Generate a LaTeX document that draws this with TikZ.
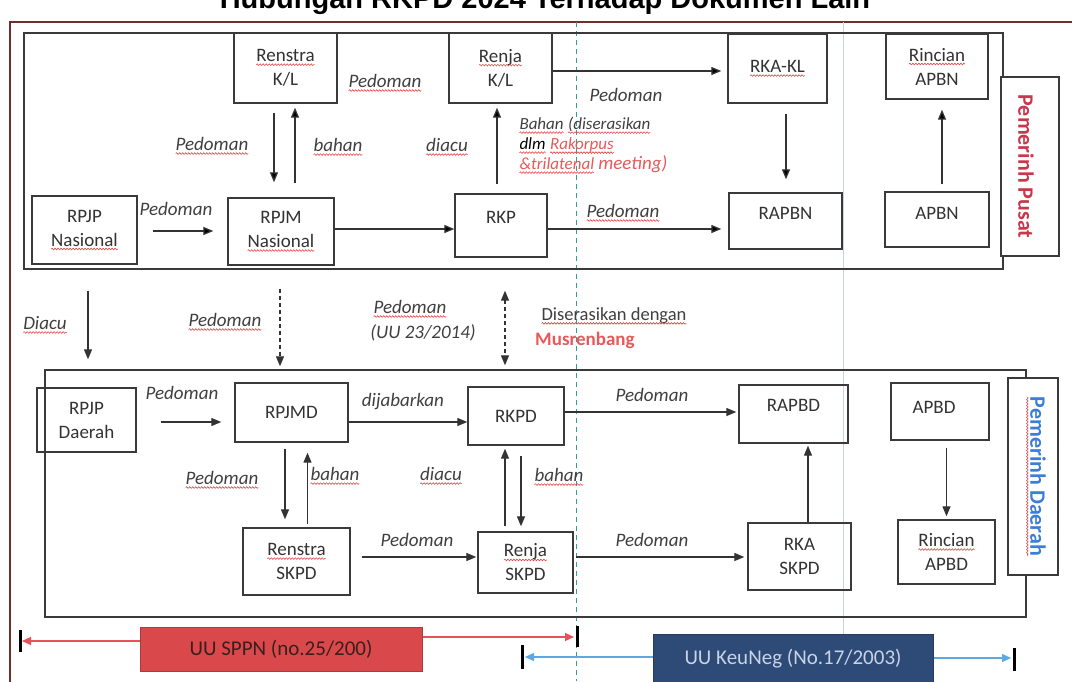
\documentclass[tikz,border=0pt]{standalone}
\usepackage{fontspec}
\setmainfont{Carlito}
\newfontfamily\judulfont{Liberation Sans}
\usetikzlibrary{arrows.meta,decorations.pathmorphing}

\definecolor{ink}{HTML}{333333}
\definecolor{boxgray}{HTML}{3A3A3A}
\definecolor{lblgray}{HTML}{404040}
\definecolor{framered}{HTML}{6E2E2E}
\definecolor{sqred}{HTML}{E04848}
\definecolor{rakorred}{HTML}{E65A5A}
\definecolor{pusatred}{HTML}{C8374A}
\definecolor{daerahblue}{HTML}{3A7FD5}
\definecolor{guideteal}{HTML}{2FA08F}
\definecolor{guidefaint}{HTML}{C9D3E6}
\definecolor{sppnred}{HTML}{D9484B}
\definecolor{rangered}{HTML}{E8505A}
\definecolor{keunegblue}{HTML}{2E4B78}
\definecolor{rangeblue}{HTML}{5AA8E6}

% red spell-check squiggle under a word
\newcommand\sq[1]{\tikz[baseline=(sqw.base)]{\node[inner sep=0pt,outer sep=0pt,minimum width=0pt,minimum height=0pt,draw=none,fill=none] (sqw) {#1};\draw[sqred,line width=0.6pt,decorate,decoration={snake,amplitude=0.8pt,segment length=3pt}] ([yshift=-3pt]sqw.base west) -- ([yshift=-3pt]sqw.base east);}}

\begin{document}
\begin{tikzpicture}[x=1pt,y=-1pt,
    box/.style 2 args={draw=boxgray,line width=1.4pt,inner sep=0pt,minimum width=#1pt,minimum height=#2pt,align=center,text=ink,font=\fontsize{19}{24}\selectfont},
    boxtx/.style={inner sep=0pt,align=center,text=ink,font=\fontsize{19}{24}\selectfont},
    sidebox/.style 2 args={draw=boxgray,line width=1.4pt,fill=white,minimum width=#1pt,minimum height=#2pt,inner sep=0pt},
    frame/.style 2 args={draw=boxgray,line width=1.4pt,minimum width=#1pt,minimum height=#2pt,inner sep=0pt},
    lbl/.style={inner sep=0pt,text=lblgray,font=\fontsize{19}{22}\selectfont\itshape},
    arr/.style={draw=ink,line width=1.3pt,-{Triangle[length=10pt,width=8pt]}},
    dasharr/.style={arr,dash pattern=on 4pt off 3pt},
    bar/.style={line width=3pt,black},
  ]
\path[use as bounding box,clip] (0,0) rectangle (1072,681);
\fill[white] (0,0) rectangle (1072,681);

\node[anchor=base,text=black,font=\judulfont\fontsize{29}{32}\selectfont\bfseries] (judul) at (545,8) {Hubungan RKPD 2024 Terhadap Dokumen Lain};
\draw[framered,line width=1.8pt] (1080,22) -- (10,22) -- (10,690);
\draw[guidefaint,line width=1pt] (843,22) -- (843,681);
\draw[guideteal,line width=1pt,dash pattern=on 5pt off 4pt] (576,22) -- (576,681);

% pemerintah pusat
\node[frame={979}{236}] (pusat) at (513.5,151) {};
\node[box={103}{70}] (renstrakl) at (285.5,68) {\sq{Renstra}\\K/L};
\node[box={103}{70}] (renjakl) at (500.5,68) {\sq{Renja}\\K/L};
\node[box={99}{69}] (rkakl) at (777.5,68.5) {\sq{RKA-KL}};
\node[box={102}{65}] (rincianapbn) at (937,66.5) {\sq{Rincian}\\APBN};
\node[box={105}{68}] (rpjpn) at (84.5,230) {RPJP\\\sq{Nasional}};
\node[box={106}{67}] (rpjmn) at (281,231.5) {RPJM\\\sq{Nasional}};
\node[box={92}{63}] (rkp) at (501,225.5) {};
\node[boxtx] (rkptx) at ([yshift=8.5pt]rkp.center) {RKP};
\node[box={113}{56}] (rapbn) at (785.5,221) {};
\node[boxtx] (rapbntx) at ([yshift=8pt]rapbn.center) {RAPBN};
\node[box={104}{55}] (apbn) at (937,219.5) {};
\node[boxtx] (apbntx) at ([yshift=6pt]apbn.center) {APBN};
\node[sidebox={58}{179}] (pusatlbl) at (1030,166.5) {};
\node[rotate=-90,inner sep=0pt,text=pusatred,font=\fontsize{22}{24}\selectfont\bfseries] (pusattx) at ([xshift=-4pt]pusatlbl.center) {Pemerinh Pusat};

\draw[arr,shorten <=15pt,shorten >=14pt] ([yshift=-1pt]rpjpn.east) -- ([yshift=-1pt]rpjpn.east -| rpjmn.west);
\draw[arr] ([yshift=2.5pt]rpjmn.east) -- ([yshift=2.5pt]rpjmn.east -| rkp.west);
\draw[arr,shorten <=9pt,shorten >=15pt] ([xshift=-11.5pt]renstrakl.south) -- ([xshift=-11.5pt]renstrakl.south |- rpjmn.north);
\draw[arr,shorten <=14pt,shorten >=4pt] ([xshift=14pt]rpjmn.north) -- ([xshift=14pt]rpjmn.north |- renstrakl.south);
\draw[arr,shorten <=9pt,shorten >=4pt] ([xshift=-4pt]rkp.north) -- ([xshift=-4pt]rkp.north |- renjakl.south);
\draw[arr,shorten >=6pt] ([yshift=-3pt]renjakl.east) -- ([yshift=-3pt]renjakl.east -| rkakl.west);
\draw[arr,shorten <=10pt,shorten >=13pt] ([xshift=8.5pt]rkakl.south) -- ([xshift=8.5pt]rkakl.south |- rapbn.north);
\draw[arr,shorten <=7pt,shorten >=10pt] ([xshift=5pt]apbn.north) -- ([xshift=5pt]apbn.north |- rincianapbn.south);
\draw[arr,shorten >=7pt] ([yshift=-3.5pt]rkp.east) -- ([yshift=-3.5pt]rkp.east -| rapbn.west);

\node[lbl] (pedomanrk) at (385,83) {\sq{Pedoman}};
\node[lbl] (pedomanrpjp) at (176,209) {Pedoman};
\node[lbl] (pedomanrs) at (212,146) {\sq{Pedoman}};
\node[lbl] (bahanrs) at (338,147) {\sq{bahan}};
\node[lbl] (diacurk) at (447,147) {\sq{diacu}};
\node[lbl] (pedomanka) at (626,95) {Pedoman};
\node[lbl] (pedomanrapbn) at (623,213) {\sq{Pedoman}};
\node[lbl,align=left,anchor=north west,font=\fontsize{17}{20}\selectfont\itshape] (bahanrakor) at (519,117)
  {\sq{Bahan} \sq{(diserasikan}\\\textcolor{black}{\sq{dlm}} \textcolor{rakorred}{\sq{Rakorpus}}\\\textcolor{rakorred}{\sq{\&trilatenal} {\fontsize{19}{20}\selectfont meeting)}}};

% pemerintah daerah
\node[frame={981}{247}] (daerah) at (535.5,493.5) {};
\node[box={99}{64}] (rpjpd) at (86.5,420) {RPJP\\Daerah};
\node[box={113}{59}] (rpjmd) at (291.5,412.5) {RPJMD};
\node[box={96}{58}] (rkpd) at (516,416) {RKPD};
\node[box={109}{58}] (rapbd) at (793.5,414) {};
\node[boxtx] (rapbdtx) at ([yshift=9pt]rapbd.center) {RAPBD};
\node[box={98}{57}] (apbd) at (940,411.5) {};
\node[boxtx] (apbdtx) at ([xshift=-6pt,yshift=4.5pt]apbd.center) {APBD};
\node[box={107}{67}] (renstraskpd) at (296.5,561.5) {\sq{Renstra}\\SKPD};
\node[box={95}{61}] (renjaskpd) at (525.5,562.5) {\sq{Renja}\\SKPD};
\node[box={103}{67}] (rkaskpd) at (799.5,556.5) {RKA\\SKPD};
\node[box={97}{64}] (rincianapbd) at (946.5,552) {\sq{Rincian}\\APBD};
\node[sidebox={50}{197}] (daerahlbl) at (1033,476.5) {};
\node[rotate=-90,inner sep=0pt,text=daerahblue,font=\fontsize{22}{24}\selectfont\bfseries] (daerahtx) at ([xshift=3pt]daerahlbl.center) {\sq{Pemerinh Daerah}};

\draw[arr,shorten <=24pt,shorten >=13pt] ([yshift=-2pt]rpjpd.east) -- ([yshift=-2pt]rpjpd.east -| rpjmd.west);
\draw[arr] ([yshift=-9.5pt]rpjmd.east) -- ([yshift=-9.5pt]rpjmd.east -| rkpd.west);
\draw[arr,shorten <=6pt,shorten >=8pt] ([xshift=-6.5pt]rpjmd.south) -- ([xshift=-6.5pt]rpjmd.south |- renstraskpd.north);
\draw[arr,shorten <=3pt,shorten >=10pt] ([xshift=11pt]renstraskpd.north) -- ([xshift=11pt]renstraskpd.north |- rpjmd.south);
\draw[arr,shorten <=5pt,shorten >=3pt] ([xshift=-20.5pt]renjaskpd.north) -- ([xshift=-20.5pt]renjaskpd.north |- rkpd.south);
\draw[arr,shorten <=10pt,shorten >=5pt] ([xshift=5pt]rkpd.south) -- ([xshift=5pt]rkpd.south |- renjaskpd.north);
\draw[arr,shorten <=11pt,shorten >=1pt] ([yshift=4.5pt]renstraskpd.east) -- ([yshift=4.5pt]renstraskpd.east -| renjaskpd.west);
\draw[arr,shorten >=2pt] ([yshift=4pt]rkpd.east) -- ([yshift=4pt]rkpd.east -| rapbd.west);
\draw[arr,shorten <=2pt,shorten >=3pt] ([yshift=5.5pt]renjaskpd.east) -- ([yshift=5.5pt]renjaskpd.east -| rkaskpd.west);
\draw[arr,shorten >=2pt] ([xshift=8.5pt]rkaskpd.north) -- ([xshift=8.5pt]rkaskpd.north |- rapbd.south);
\draw[arr,shorten <=7pt,shorten >=3pt] ([xshift=6.5pt]apbd.south) -- ([xshift=6.5pt]apbd.south |- rincianapbd.north);

\node[lbl] (pedomanrpjpd) at (182,393) {Pedoman};
\node[lbl] (dijabarkan) at (403,402) {dijabarkan};
\node[lbl] (pedomanrsd) at (222,480) {\sq{Pedoman}};
\node[lbl] (bahanrsd) at (335,476) {\sq{bahan}};
\node[lbl] (diacurkd) at (441,476) {\sq{diacu}};
\node[lbl] (bahanrkd) at (559,477) {\sq{bahan}};
\node[lbl] (pedomanrenja) at (417,540) {Pedoman};
\node[lbl] (pedomanrapbd) at (652,395) {Pedoman};
\node[lbl] (pedomanrka) at (652,540) {Pedoman};

% pusat ke daerah
\draw[arr,shorten <=26pt,shorten >=10pt] ([xshift=3.5pt]rpjpn.south) -- ([xshift=3.5pt]rpjpn.south |- daerah.north);
\draw[dasharr,shorten <=23pt,shorten >=3pt] ([xshift=-1pt]rpjmn.south) -- ([xshift=-1pt]rpjmn.south |- daerah.north);
\draw[dasharr,{Triangle[length=10pt,width=8pt]}-{Triangle[length=10pt,width=8pt]},shorten <=33pt,shorten >=4pt] ([xshift=4pt]rkp.south) -- ([xshift=4pt]rkp.south |- daerah.north);
\node[lbl] (diacurpjp) at (45,325) {\sq{Diacu}};
\node[lbl] (pedomanrpjm) at (225,322) {\sq{Pedoman}};
\node[lbl] (pedomanuu) at (410,309) {\sq{Pedoman}};
\node[lbl] (uu) at (423,333) {(UU 23/2014)};
\node[lbl,font=\fontsize{18.5}{22}\selectfont] (diserasikan) at (614,316) {\sq{Diserasikan dengan}};
\node[inner sep=0pt,anchor=west,text=rakorred,font=\fontsize{19}{22}\selectfont\bfseries] (musrenbang) at (535,340) {Musrenbang};

% undang-undang
\node[fill=sppnred,draw=sppnred!80!black,line width=1pt,minimum width=282pt,minimum height=44pt,inner sep=0pt,text={rgb,255:red,60;green,30;blue,30},font=\fontsize{21}{24}\selectfont] (sppn) at (281,649) {UU SPPN (no.25/200)};
\node[fill=keunegblue,draw=keunegblue!80!black,line width=1pt,minimum width=280pt,minimum height=50pt,inner sep=0pt,text=guidefaint,font=\fontsize{21}{24}\selectfont] (keuneg) at (793,659) {UU KeuNeg (No.17/2003)};
\coordinate (sppnkiri) at (22,641);
\coordinate (sppnkanan) at (574,637);
\coordinate (keunegkiri) at (525,657);
\coordinate (keunegkanan) at (1011,658);
\draw[rangered,line width=1.2pt,-{Triangle[length=9pt,width=8pt]}] (sppn.west |- sppnkiri) -- (sppnkiri);
\draw[rangered,line width=1.2pt,-{Triangle[length=9pt,width=8pt]}] (sppn.east |- sppnkanan) -- (sppnkanan);
\draw[rangeblue,line width=1.2pt,-{Triangle[length=9pt,width=8pt]}] (keuneg.west |- keunegkiri) -- (keunegkiri);
\draw[rangeblue,line width=1.2pt,-{Triangle[length=9pt,width=8pt]}] (keuneg.east |- keunegkanan) -- (keunegkanan);
\draw[bar] (20,630) -- (20,652);
\draw[bar] (577,626) -- (577,647);
\draw[bar] (522,645) -- (522,669);
\draw[bar] (1014,648) -- (1014,671);
\end{tikzpicture}
\end{document}
